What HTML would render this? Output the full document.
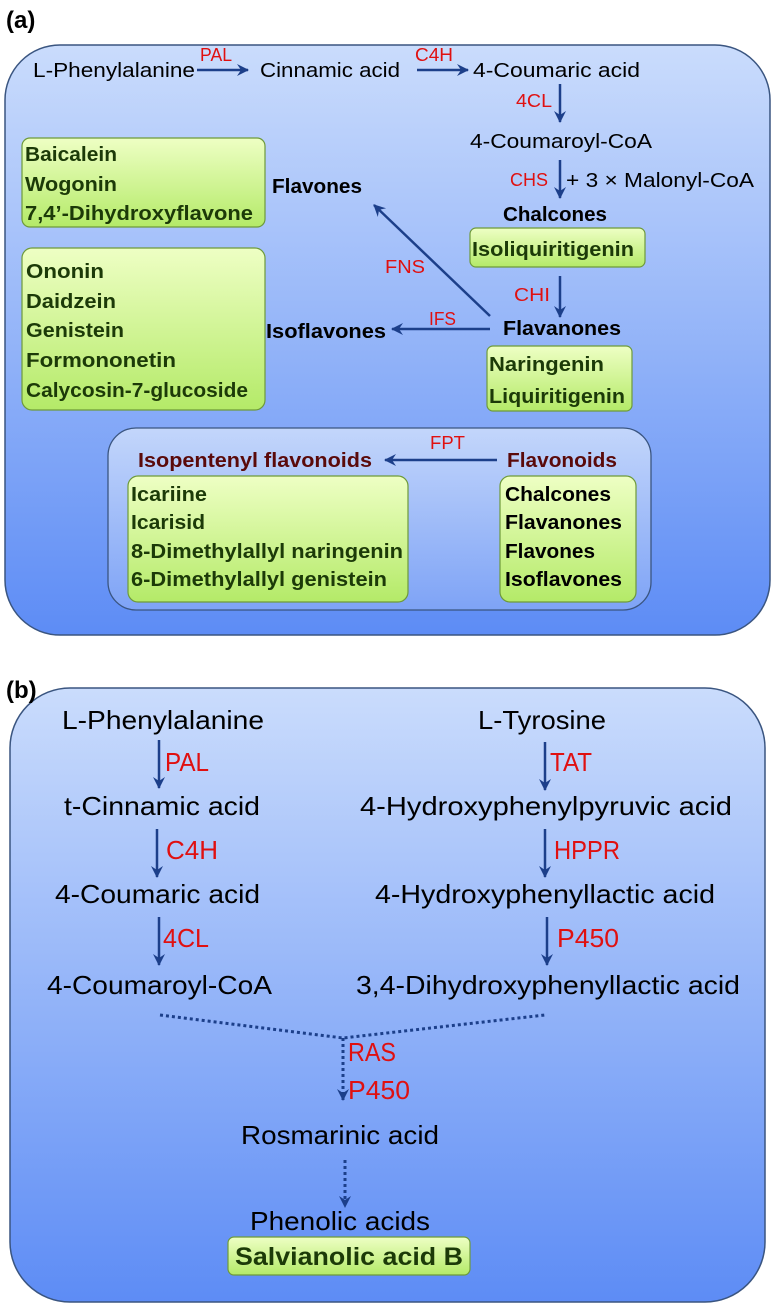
<!DOCTYPE html>
<html><head><meta charset="utf-8"><style>
html,body{margin:0;padding:0;background:#fff}
svg{display:block}
text{font-family:"Liberation Sans",sans-serif}
.n{font-size:20px;fill:#000}
.e{font-size:18px;fill:#e01010}
.b{font-size:20px;font-weight:bold;fill:#000}
.g{font-size:20px;font-weight:bold;fill:#1c3a08}
.r{font-size:20px;font-weight:bold;fill:#5a0a0a}
.m{font-size:26px;fill:#000}
.eb{font-size:26px;fill:#e01010}
</style></head><body>
<svg width="774" height="1311" viewBox="0 0 774 1311" xmlns="http://www.w3.org/2000/svg">
<defs>
<linearGradient id="bg" x1="0" y1="0" x2="0" y2="1"><stop offset="0" stop-color="#cadcfc"/><stop offset="1" stop-color="#5d8cf5"/></linearGradient>
<linearGradient id="bg2" x1="0" y1="0" x2="0" y2="1"><stop offset="0" stop-color="#c3d6fb"/><stop offset="1" stop-color="#7ea3f6"/></linearGradient>
<linearGradient id="gr" x1="0" y1="0" x2="0" y2="1"><stop offset="0" stop-color="#eeffc4"/><stop offset="1" stop-color="#b4ea68"/></linearGradient>
<marker id="ah" markerWidth="14" markerHeight="14" refX="11" refY="6" orient="auto" markerUnits="userSpaceOnUse"><path d="M0,0 L12,6 L0,12 L4,6 Z" fill="#1c3f8a"/></marker>
</defs>
<!-- Panel a -->
<text x="6" y="28" style="font-size:24px;font-weight:bold">(a)</text>
<rect x="5" y="45" width="765" height="590" rx="55" fill="url(#bg)" stroke="#3a5580" stroke-width="1.5"/>
<text class="n" x="33" y="77" textLength="162" lengthAdjust="spacingAndGlyphs">L-Phenylalanine</text>
<text class="e" x="200" y="61" textLength="32" lengthAdjust="spacingAndGlyphs">PAL</text>
<text class="n" x="260" y="77" textLength="140" lengthAdjust="spacingAndGlyphs">Cinnamic acid</text>
<text class="e" x="415" y="61" textLength="38" lengthAdjust="spacingAndGlyphs">C4H</text>
<text class="n" x="473" y="77" textLength="167" lengthAdjust="spacingAndGlyphs">4-Coumaric acid</text>
<text class="e" x="516" y="107" textLength="36" lengthAdjust="spacingAndGlyphs">4CL</text>
<text class="n" x="470" y="148" textLength="182" lengthAdjust="spacingAndGlyphs">4-Coumaroyl-CoA</text>
<text class="e" x="510" y="186" textLength="38" lengthAdjust="spacingAndGlyphs">CHS</text>
<text class="n" x="566" y="187" textLength="188" lengthAdjust="spacingAndGlyphs">+ 3 × Malonyl-CoA</text>
<text class="b" x="503" y="221" textLength="104" lengthAdjust="spacingAndGlyphs">Chalcones</text>
<rect x="470" y="228" width="175" height="39" rx="6" fill="url(#gr)" stroke="#6e9a3a" stroke-width="1.2"/>
<text class="g" x="472" y="256" textLength="162" lengthAdjust="spacingAndGlyphs">Isoliquiritigenin</text>
<text class="e" x="514" y="301" textLength="36" lengthAdjust="spacingAndGlyphs">CHI</text>
<text class="b" x="503" y="335" textLength="118" lengthAdjust="spacingAndGlyphs">Flavanones</text>
<rect x="487" y="346" width="145" height="65" rx="6" fill="url(#gr)" stroke="#6e9a3a" stroke-width="1.2"/>
<text class="g" x="489" y="371" textLength="115" lengthAdjust="spacingAndGlyphs">Naringenin</text>
<text class="g" x="489" y="403" textLength="136" lengthAdjust="spacingAndGlyphs">Liquiritigenin</text>
<text class="e" x="429" y="325" textLength="27" lengthAdjust="spacingAndGlyphs">IFS</text>
<text class="b" x="266" y="338" textLength="120" lengthAdjust="spacingAndGlyphs">Isoflavones</text>
<text class="e" x="385" y="273" textLength="40" lengthAdjust="spacingAndGlyphs">FNS</text>
<text class="b" x="272" y="193" textLength="90" lengthAdjust="spacingAndGlyphs">Flavones</text>
<rect x="22" y="138" width="243" height="89" rx="8" fill="url(#gr)" stroke="#6e9a3a" stroke-width="1.2"/>
<text class="g" x="25" y="161" textLength="92" lengthAdjust="spacingAndGlyphs">Baicalein</text>
<text class="g" x="25" y="191" textLength="92" lengthAdjust="spacingAndGlyphs">Wogonin</text>
<text class="g" x="25" y="220" textLength="228" lengthAdjust="spacingAndGlyphs">7,4’-Dihydroxyflavone</text>
<rect x="22" y="248" width="243" height="162" rx="10" fill="url(#gr)" stroke="#6e9a3a" stroke-width="1.2"/>
<text class="g" x="26" y="278" textLength="78" lengthAdjust="spacingAndGlyphs">Ononin</text>
<text class="g" x="26" y="308" textLength="90" lengthAdjust="spacingAndGlyphs">Daidzein</text>
<text class="g" x="26" y="337" textLength="98" lengthAdjust="spacingAndGlyphs">Genistein</text>
<text class="g" x="26" y="367" textLength="150" lengthAdjust="spacingAndGlyphs">Formononetin</text>
<text class="g" x="26" y="397" textLength="222" lengthAdjust="spacingAndGlyphs">Calycosin-7-glucoside</text>
<rect x="108" y="428" width="543" height="182" rx="28" fill="url(#bg2)" stroke="#3a5580" stroke-width="1.3"/>
<text class="r" x="138" y="467" textLength="234" lengthAdjust="spacingAndGlyphs">Isopentenyl flavonoids</text>
<text class="e" x="430" y="449" textLength="35" lengthAdjust="spacingAndGlyphs">FPT</text>
<text class="r" x="507" y="467" textLength="110" lengthAdjust="spacingAndGlyphs">Flavonoids</text>
<rect x="128" y="476" width="280" height="126" rx="10" fill="url(#gr)" stroke="#6e9a3a" stroke-width="1.2"/>
<text class="g" x="131" y="501" textLength="76" lengthAdjust="spacingAndGlyphs">Icariine</text>
<text class="g" x="131" y="529" textLength="74" lengthAdjust="spacingAndGlyphs">Icarisid</text>
<text class="g" x="131" y="558" textLength="272" lengthAdjust="spacingAndGlyphs">8-Dimethylallyl naringenin</text>
<text class="g" x="131" y="586" textLength="256" lengthAdjust="spacingAndGlyphs">6-Dimethylallyl genistein</text>
<rect x="500" y="476" width="136" height="126" rx="10" fill="url(#gr)" stroke="#6e9a3a" stroke-width="1.2"/>
<text class="b" x="505" y="501" textLength="106" lengthAdjust="spacingAndGlyphs">Chalcones</text>
<text class="b" x="505" y="529" textLength="117" lengthAdjust="spacingAndGlyphs">Flavanones</text>
<text class="b" x="505" y="558" textLength="90" lengthAdjust="spacingAndGlyphs">Flavones</text>
<text class="b" x="505" y="586" textLength="117" lengthAdjust="spacingAndGlyphs">Isoflavones</text>
<g stroke="#1c3f8a" stroke-width="2.5" fill="none" marker-end="url(#ah)">
<line x1="197" y1="70" x2="248" y2="70"/>
<line x1="417" y1="70" x2="468" y2="70"/>
<line x1="560" y1="84" x2="560" y2="122"/>
<line x1="560" y1="160" x2="560" y2="198"/>
<line x1="560" y1="276" x2="560" y2="317"/>
<line x1="490" y1="329" x2="392" y2="329"/>
<line x1="490" y1="316" x2="374" y2="205"/>
<line x1="497" y1="460" x2="385" y2="460"/>
</g>
<!-- Panel b -->
<rect x="10" y="688" width="755" height="614" rx="60" fill="url(#bg)" stroke="#3a5580" stroke-width="1.5"/>
<text x="6" y="698" style="font-size:24px;font-weight:bold">(b)</text>
<text class="m" x="62" y="729" textLength="202" lengthAdjust="spacingAndGlyphs">L-Phenylalanine</text>
<text class="eb" x="165" y="771" textLength="44" lengthAdjust="spacingAndGlyphs">PAL</text>
<text class="m" x="64" y="815" textLength="196" lengthAdjust="spacingAndGlyphs">t-Cinnamic acid</text>
<text class="eb" x="166" y="859" textLength="52" lengthAdjust="spacingAndGlyphs">C4H</text>
<text class="m" x="55" y="903" textLength="205" lengthAdjust="spacingAndGlyphs">4-Coumaric acid</text>
<text class="eb" x="163" y="947" textLength="46" lengthAdjust="spacingAndGlyphs">4CL</text>
<text class="m" x="47" y="994" textLength="225" lengthAdjust="spacingAndGlyphs">4-Coumaroyl-CoA</text>
<text class="m" x="478" y="729" textLength="128" lengthAdjust="spacingAndGlyphs">L-Tyrosine</text>
<text class="eb" x="550" y="771" textLength="42" lengthAdjust="spacingAndGlyphs">TAT</text>
<text class="m" x="360" y="815" textLength="372" lengthAdjust="spacingAndGlyphs">4-Hydroxyphenylpyruvic acid</text>
<text class="eb" x="554" y="859" textLength="66" lengthAdjust="spacingAndGlyphs">HPPR</text>
<text class="m" x="375" y="903" textLength="340" lengthAdjust="spacingAndGlyphs">4-Hydroxyphenyllactic acid</text>
<text class="eb" x="557" y="947" textLength="62" lengthAdjust="spacingAndGlyphs">P450</text>
<text class="m" x="356" y="994" textLength="384" lengthAdjust="spacingAndGlyphs">3,4-Dihydroxyphenyllactic acid</text>
<text class="eb" x="348" y="1061" textLength="48" lengthAdjust="spacingAndGlyphs">RAS</text>
<text class="eb" x="348" y="1099" textLength="62" lengthAdjust="spacingAndGlyphs">P450</text>
<text class="m" x="241" y="1144" textLength="198" lengthAdjust="spacingAndGlyphs">Rosmarinic acid</text>
<text class="m" x="250" y="1230" textLength="180" lengthAdjust="spacingAndGlyphs">Phenolic acids</text>
<rect x="228" y="1237" width="242" height="38" rx="6" fill="url(#gr)" stroke="#6e9a3a" stroke-width="1.2"/>
<text x="235" y="1265" textLength="228" lengthAdjust="spacingAndGlyphs" style="font-size:25px;font-weight:bold;fill:#1c3a08">Salvianolic acid  B</text>
<g stroke="#1c3f8a" stroke-width="2.5" fill="none" marker-end="url(#ah)">
<line x1="159" y1="740" x2="159" y2="788"/>
<line x1="157" y1="829" x2="157" y2="877"/>
<line x1="159" y1="917" x2="159" y2="965"/>
<line x1="545" y1="742" x2="545" y2="790"/>
<line x1="545" y1="829" x2="545" y2="877"/>
<line x1="547" y1="917" x2="547" y2="965"/>
</g>
<g stroke="#1c3f8a" stroke-width="3" fill="none" stroke-dasharray="3,3">
<polyline points="160,1015 343,1038 545,1015"/>
<line x1="343" y1="1038" x2="343" y2="1100" marker-end="url(#ah)"/>
<line x1="345" y1="1160" x2="345" y2="1207" marker-end="url(#ah)"/>
</g>
</svg>
</body></html>
